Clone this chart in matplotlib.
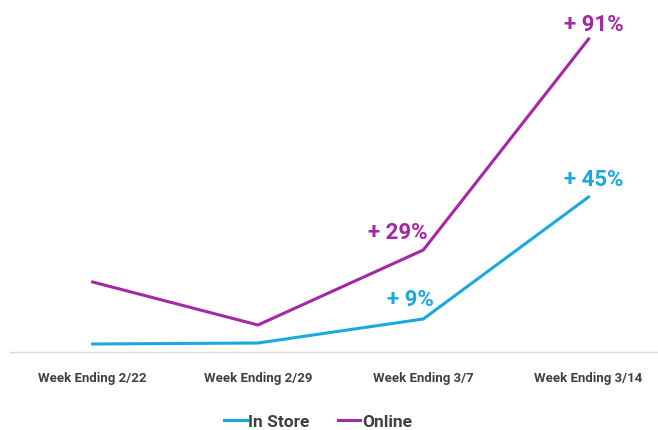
import matplotlib
matplotlib.use('Agg')
import matplotlib.pyplot as plt

weeks = ['Week Ending 2/22', 'Week Ending 2/29', 'Week Ending 3/7', 'Week Ending 3/14']
in_store = [8, 9, 33, 155]
online = [70, 27, 102, 313]
in_store_labels = [None, None, '+ 9%', '+ 45%']
online_labels = [None, None, '+ 29%', '+ 91%']

CYAN = '#1AA9DF'
PURPLE = '#A526A6'

plt.rcParams['font.family'] = ['Roboto', 'DejaVu Sans']

fig = plt.figure(figsize=(6.58, 4.31), dpi=100)
ax = fig.add_axes([10 / 658, 1 - 353 / 431, 648 / 658, 353 / 431])

x = list(range(len(weeks)))
ax.plot(x, in_store, color=CYAN, lw=2.2, label='In Store', solid_joinstyle='miter')
ax.plot(x, online, color=PURPLE, lw=2.2, label='Online', solid_joinstyle='miter')

offsets_store = {2: (-13, 20), 3: (5, 18)}
offsets_online = {2: (-25, 18), 3: (5, 15)}
for i, lab in enumerate(in_store_labels):
    if lab:
        ax.annotate(lab, (x[i], in_store[i]), xytext=offsets_store[i],
                    textcoords='offset pixels', ha='center', va='center',
                    color=CYAN, fontsize=16, fontweight='bold')
for i, lab in enumerate(online_labels):
    if lab:
        ax.annotate(lab, (x[i], online[i]), xytext=offsets_online[i],
                    textcoords='offset pixels', ha='center', va='center',
                    color=PURPLE, fontsize=16, fontweight='bold')

ax.set_xlim(-0.5, 3.42)
ax.set_ylim(0, 353)
ax.set_xticks(x)
ax.set_xticklabels(weeks, fontsize=9.5, fontweight='bold', color='#404040')
ax.tick_params(axis='x', length=0, pad=14)
ax.set_yticks([])
for s in ['top', 'right', 'left']:
    ax.spines[s].set_visible(False)
ax.spines['bottom'].set_color('#D9D9D9')
ax.spines['bottom'].set_linewidth(1)

leg = fig.legend(loc='center', bbox_to_anchor=(318 / 658, 1 - 422 / 431),
                 ncol=2, frameon=False, handlelength=1.3, handletextpad=0.1,
                 columnspacing=1.6, fontsize=12.5)
for t in leg.get_texts():
    t.set_color('#404040')
    t.set_fontweight('bold')

fig.savefig('out.png', dpi=100)
